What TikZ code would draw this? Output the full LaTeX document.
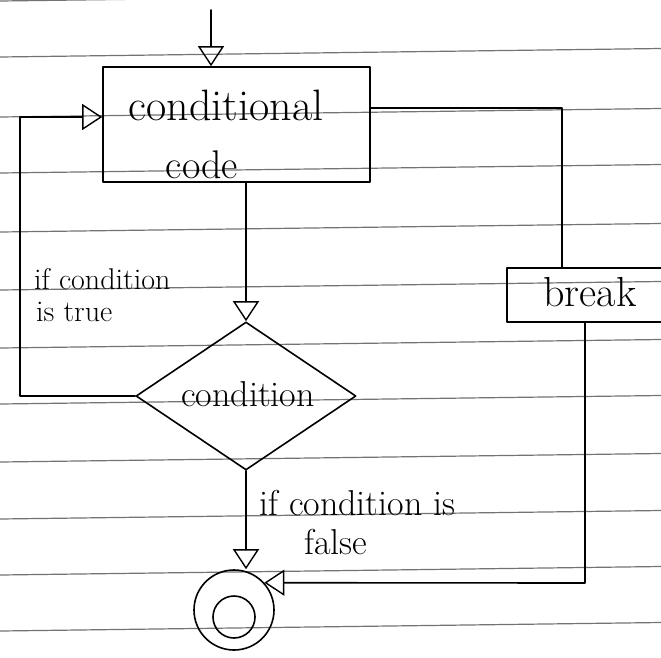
\documentclass[tikz,border=0pt]{standalone}
\usetikzlibrary{arrows.meta,shapes.geometric}
\begin{document}
\begin{tikzpicture}[x=1pt,y=-1pt,
  ink/.style={line width=1.6pt, black, line cap=round, line join=round},
  flow/.style={ink, -{Triangle[open,length=20pt,width=26pt,line width=1.4pt]}},
  rule/.style={black!55, line width=1.2pt},
  hand/.style={inner sep=0pt, font=\fontsize{#1}{#1}\selectfont},
  box/.style={ink, draw, rectangle, inner sep=0pt}]

% page and ruled lines
\fill[white] (0,0) rectangle (661,657);
\useasboundingbox (0,0) rectangle (661,657);
\foreach \y in {1,57,117,173,232,290,348,404,462,519,575,631}
  \draw[rule] (0,\y) -- (661,\y-8.5);

% blocks
\node[box, minimum width=267pt, minimum height=115pt] (cc) at (236.5,124.5) {};
\node[hand=44, anchor=base] (cctext) at (226,120) {conditional};
\node[hand=40, anchor=base] (cctext2) at (202,178) {code};

\node[ink, draw, diamond, minimum width=220pt, minimum height=148pt, inner sep=0pt] (dia) at (246,396) {};
\node[hand=36, anchor=base] (diatext) at (248,406) {condition};

\node[box, minimum width=173pt, minimum height=54pt] (brk) at (593.5,295) {};
\node[hand=42, anchor=base] (brktext) at (590,306) {break};

\node[ink, draw, circle, minimum size=80pt, inner sep=0pt] (endc) at (234,610) {};
\node[ink, draw, circle, minimum size=42pt, inner sep=0pt] (endin) at (234,617) {};

% connectors
\coordinate (start) at (211,10);
\draw[flow] (start) -- (start |- cc.north);
\draw[flow] (cc.south -| dia.north) -- (dia.north);

\coordinate (lt) at (20,117);
\draw[flow] (dia.west) -| (lt) -- (lt -| cc.west);

\coordinate (rt) at (562,108);
\draw[ink] (rt -| cc.east) -- (rt) -- (rt |- brk.north);

\coordinate (rb) at (585,583);
\draw[flow] (rb |- brk.south) -- (rb) -- (endc.42.5);

\draw[flow] (dia.south) -- (dia.south |- endc.north);

% branch labels
\node[hand=30, anchor=base west] (truel1) at (34,289) {if condition};
\node[hand=30, anchor=base west] (truel2) at (36,321) {is true};
\node[hand=36, anchor=base west] (falsel1) at (259,515) {if condition is};
\node[hand=36, anchor=base west] (falsel2) at (304,554) {false};
\end{tikzpicture}
\end{document}
